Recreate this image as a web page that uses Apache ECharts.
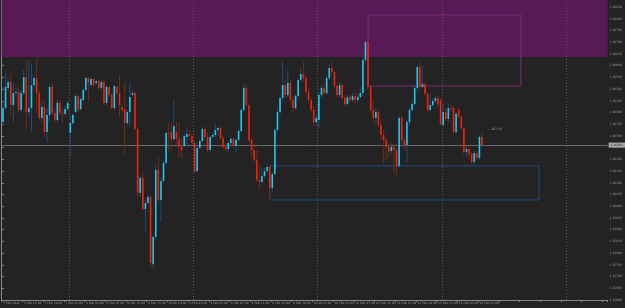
<!DOCTYPE html>
<html><head><meta charset="utf-8">
<script src="https://cdn.jsdelivr.net/npm/echarts@6/dist/echarts.min.js"></script>
<style>html,body{margin:0;padding:0;background:#232323}#c{width:625px;height:308px}</style>
</head><body><div id="c"></div>
<script>
const symbolTitle = '\u25AA GBPUSD,M30';
const tradingDays = ['7 Feb', '8 Feb', '9 Feb', '12 Feb', '13 Feb', '14 Feb'];
const tickLabels = ['7 Feb 2024','7 Feb 15:00','7 Feb 19:00','7 Feb 23:00','8 Feb 03:00','8 Feb 07:00','8 Feb 11:00','8 Feb 15:00','8 Feb 19:00','8 Feb 23:00','9 Feb 03:00','9 Feb 07:00','9 Feb 11:00','9 Feb 15:00','9 Feb 19:00','9 Feb 23:00','12 Feb 03:00','12 Feb 07:00','12 Feb 11:00','12 Feb 15:00','12 Feb 19:00','12 Feb 23:00','13 Feb 03:00','13 Feb 07:00'];

const opens = [1.26359,1.26419,1.26505,1.26530,1.26432,1.26483,1.26487,1.26411,1.26483,1.26551,1.26402,1.26419,1.26517,1.26547,1.26483,1.26377,1.26423,1.26317,1.26389,1.26509,1.26398,1.26368,1.26441,1.26398,1.26394,1.26415,
1.26313,1.26355,1.26402,1.26470,1.26415,1.26453,1.26496,1.26547,1.26517,1.26543,1.26526,1.26534,1.26505,1.26530,1.26441,1.26509,1.26475,1.26419,1.26509,1.26483,1.26423,1.26415,1.26355,1.26402,1.26475,1.26483,1.26330,1.26057,1.26121,1.25988,1.26014,1.26040,1.25754,1.25869,1.26155,1.26027,1.26108,1.26185,1.26313,1.26317,1.26287,1.26317,1.26287,1.26253,1.26257,1.26296,1.26308,1.26300,
1.26270,1.26150,1.26249,1.26278,1.26330,1.26296,1.26240,1.26296,1.26304,1.26325,1.26334,1.26291,1.26253,1.26244,1.26270,1.26287,1.26257,1.26283,1.26321,1.26411,1.26505,1.26432,1.26283,1.26240,1.26197,1.26112,1.26104,1.26129,1.26150,1.26168,1.26078,1.26138,1.26325,1.26402,1.26462,1.26517,1.26475,1.26526,1.26453,1.26419,1.26470,1.26539,1.26564,1.26547,1.26487,1.26453,1.26411,1.26359,
1.26368,1.26475,1.26505,1.26483,1.26547,1.26590,1.26573,1.26513,1.26475,1.26517,1.26462,1.26436,1.26466,1.26453,1.26470,1.26453,1.26466,1.26483,1.26624,1.26701,1.26509,1.26411,1.26377,1.26402,1.26347,1.26304,1.26283,1.26253,1.26236,1.26253,1.26240,1.26172,1.26377,1.26283,1.26261,1.26359,1.26411,1.26436,1.26505,1.26594,1.26509,1.26522,1.26479,1.26411,1.26432,1.26449,1.26462,1.26453,
1.26347,1.26402,1.26372,1.26419,1.26419,1.26317,1.26411,1.26381,1.26334,1.26232,1.26244,1.26223,1.26189,1.26227,1.26206,1.26296];
const closes = [1.26419,1.26509,1.26530,1.26432,1.26483,1.26487,1.26411,1.26483,1.26551,1.26402,1.26419,1.26517,1.26547,1.26483,1.26377,1.26423,1.26317,1.26389,1.26509,1.26398,1.26368,1.26441,1.26398,1.26394,1.26415,1.26441,
1.26355,1.26389,1.26470,1.26411,1.26458,1.26496,1.26547,1.26526,1.26543,1.26517,1.26534,1.26505,1.26530,1.26441,1.26509,1.26475,1.26419,1.26513,1.26483,1.26432,1.26411,1.26355,1.26402,1.26466,1.26483,1.26330,1.26057,1.26121,1.25988,1.26014,1.26040,1.25758,1.25869,1.26155,1.26027,1.26108,1.26185,1.26313,1.26308,1.26287,1.26342,1.26287,1.26253,1.26240,1.26300,1.26308,1.26300,1.26270,
1.26146,1.26249,1.26278,1.26330,1.26296,1.26240,1.26296,1.26304,1.26325,1.26334,1.26291,1.26253,1.26244,1.26270,1.26287,1.26257,1.26283,1.26321,1.26411,1.26505,1.26432,1.26283,1.26240,1.26197,1.26112,1.26104,1.26129,1.26150,1.26168,1.26078,1.26138,1.26325,1.26402,1.26462,1.26517,1.26475,1.26526,1.26453,1.26419,1.26470,1.26539,1.26564,1.26547,1.26487,1.26453,1.26411,1.26359,1.26377,
1.26475,1.26505,1.26483,1.26547,1.26590,1.26573,1.26513,1.26475,1.26517,1.26462,1.26436,1.26466,1.26453,1.26470,1.26453,1.26466,1.26483,1.26624,1.26701,1.26509,1.26411,1.26377,1.26402,1.26347,1.26304,1.26283,1.26253,1.26232,1.26253,1.26240,1.26172,1.26377,1.26283,1.26261,1.26359,1.26411,1.26436,1.26505,1.26594,1.26509,1.26522,1.26479,1.26411,1.26432,1.26449,1.26462,1.26436,1.26351,
1.26402,1.26372,1.26419,1.26415,1.26317,1.26394,1.26381,1.26334,1.26232,1.26244,1.26223,1.26189,1.26227,1.26206,1.26296,1.26261];
const highs = [1.26453,1.26569,1.26547,1.26573,1.26526,1.26505,1.26513,1.26496,1.26581,1.26624,1.26624,1.26611,1.26560,1.26633,1.26496,1.26453,1.26453,1.26419,1.26517,1.26526,1.26411,1.26453,1.26453,1.26419,1.26428,1.26453,
1.26389,1.26398,1.26479,1.26479,1.26466,1.26505,1.26551,1.26551,1.26547,1.26547,1.26543,1.26539,1.26539,1.26539,1.26517,1.26513,1.26483,1.26517,1.26513,1.26560,1.26436,1.26530,1.26411,1.26530,1.26492,1.26492,1.26334,1.26129,1.26146,1.26027,1.26048,1.26048,1.25878,1.26176,1.26206,1.26125,1.26197,1.26321,1.26355,1.26359,1.26453,1.26359,1.26355,1.26287,1.26308,1.26334,1.26325,1.26313,
1.26278,1.26257,1.26287,1.26338,1.26338,1.26313,1.26304,1.26313,1.26355,1.26342,1.26342,1.26300,1.26266,1.26278,1.26296,1.26296,1.26291,1.26330,1.26419,1.26526,1.26517,1.26441,1.26291,1.26257,1.26240,1.26176,1.26168,1.26163,1.26180,1.26176,1.26146,1.26334,1.26419,1.26475,1.26616,1.26539,1.26581,1.26539,1.26470,1.26479,1.26547,1.26590,1.26616,1.26560,1.26505,1.26466,1.26428,1.26394,
1.26487,1.26517,1.26522,1.26556,1.26607,1.26616,1.26581,1.26522,1.26530,1.26526,1.26475,1.26475,1.26479,1.26483,1.26483,1.26479,1.26505,1.26633,1.26709,1.26705,1.26517,1.26453,1.26419,1.26411,1.26368,1.26325,1.26296,1.26270,1.26270,1.26266,1.26249,1.26389,1.26385,1.26291,1.26368,1.26419,1.26453,1.26513,1.26603,1.26616,1.26598,1.26530,1.26487,1.26483,1.26462,1.26475,1.26470,1.26462,
1.26441,1.26419,1.26441,1.26432,1.26428,1.26402,1.26423,1.26389,1.26342,1.26257,1.26253,1.26232,1.26236,1.26236,1.26304,1.26313];
const lows = [1.26347,1.26411,1.26487,1.26389,1.26359,1.26466,1.26402,1.26402,1.26475,1.26325,1.26381,1.26317,1.26505,1.26398,1.26368,1.26359,1.26296,1.26270,1.26359,1.26389,1.26355,1.26359,1.26389,1.26355,1.26385,1.26406,
1.26210,1.26347,1.26398,1.26402,1.26406,1.26449,1.26492,1.26445,1.26505,1.26509,1.26517,1.26496,1.26496,1.26432,1.26432,1.26466,1.26411,1.26411,1.26475,1.26381,1.26402,1.26219,1.26347,1.26338,1.26470,1.26325,1.26040,1.26040,1.25984,1.25890,1.26005,1.25737,1.25737,1.25856,1.26014,1.25933,1.26099,1.26176,1.26232,1.26240,1.26278,1.26253,1.26210,1.26206,1.26249,1.26253,1.26283,1.26261,
1.26142,1.26142,1.26244,1.26274,1.26287,1.26232,1.26232,1.26287,1.26296,1.26304,1.26283,1.26244,1.26236,1.26232,1.26257,1.26249,1.26227,1.26274,1.26317,1.26402,1.26423,1.26274,1.26210,1.26185,1.26104,1.26069,1.26091,1.26121,1.26142,1.26027,1.26061,1.26129,1.26317,1.26389,1.26453,1.26462,1.26466,1.26441,1.26402,1.26411,1.26462,1.26526,1.26530,1.26475,1.26441,1.26398,1.26342,1.26342,
1.26334,1.26462,1.26470,1.26475,1.26539,1.26556,1.26505,1.26462,1.26466,1.26453,1.26423,1.26428,1.26441,1.26445,1.26436,1.26441,1.26458,1.26470,1.26616,1.26496,1.26398,1.26359,1.26347,1.26334,1.26283,1.26185,1.26197,1.26206,1.26223,1.26142,1.26125,1.26163,1.26253,1.26240,1.26189,1.26347,1.26402,1.26428,1.26487,1.26496,1.26505,1.26470,1.26398,1.26402,1.26423,1.26441,1.26423,1.26342,
1.26338,1.26364,1.26359,1.26402,1.26308,1.26308,1.26377,1.26325,1.26219,1.26210,1.26197,1.26180,1.26168,1.26197,1.26197,1.26253];

const upperZone = [1.26637, 1.26880];
const resistanceBox = { from: 141, to: 200, high: 1.26816, low: 1.26513 };
const supportBox = { from: 103, to: 207, high: 1.26172, low: 1.26027 };
const objectLabel = '\u2014 267.56';
const objectLabelPrice = 1.26330;
const objectLabelBar = 187;
const SLOTS = 234;

// category axis: 30-minute bars, weekend skipped
const categories = [];
tradingDays.forEach((d, di) => {
  for (let h = 0; h < 48; h++) {
    if (di === 0 && h < 22) continue;
    categories.push(d + ' ' + String(Math.floor(h / 2)).padStart(2, '0') + ':' + (h % 2 ? '30' : '00'));
  }
});
categories.length = SLOTS;
const dayStarts = [];
categories.forEach((c, i) => { if (i > 0 && c.endsWith(' 00:00')) dayStarts.push(i); });

const candleData = opens.map((o, i) => [i, o, closes[i], lows[i], highs[i]]);
const lastClose = closes[closes.length - 1];

const chart = echarts.init(document.getElementById('c'), null, { renderer: 'canvas' });
chart.setOption({
  animation: false,
  backgroundColor: '#232323',
  grid: { left: 0, right: 14, top: 0, bottom: 8 },
  xAxis: [{
    type: 'category', data: categories, boundaryGap: true,
    axisLine: { lineStyle: { color: '#8a8a8a', width: 1 } },
    axisTick: { show: true, interval: 7, length: 2, lineStyle: { color: '#8a8a8a' } },
    axisLabel: { interval: 7, fontSize: 3, color: '#9a9a9a', margin: 2, align: 'left',
      fontFamily: 'DejaVu Sans',
      formatter: (v, idx) => (idx % 8 === 0 && tickLabels[idx / 8]) ? tickLabels[idx / 8] : '' },
    splitLine: { show: false }
  }, {
    type: 'value', min: 0, max: SLOTS, show: false
  }],
  yAxis: {
    type: 'value', position: 'right', min: 1.2560, max: 1.2688, interval: 0.0005, scale: true,
    axisLine: { show: true, lineStyle: { color: '#8a8a8a', width: 1 } },
    axisTick: { show: true, length: 2, lineStyle: { color: '#8a8a8a' } },
    axisLabel: { fontSize: 3, color: '#9a9a9a', margin: 2, showMaxLabel: false, fontFamily: 'DejaVu Sans',
      formatter: v => v.toFixed(5) },
    splitLine: { show: false }
  },
  graphic: [
    { type: 'text', left: 2, top: 1, style: { text: symbolTitle, fill: '#a8a8a8', font: '3px DejaVu Sans' } },
    { type: 'rect', shape: { x: 5.5, y: 9.5, width: 6.5, height: 6 }, style: { fill: '#2e2e2e', stroke: '#a12a92', lineWidth: 1 } },
    { type: 'rect', shape: { x: 14.5, y: 9.5, width: 6.5, height: 6 }, style: { fill: '#2e2e2e', stroke: '#2e5f9e', lineWidth: 1 } },
    { type: 'rect', shape: { x: 31, y: 9, width: 6.5, height: 6.5 }, style: { fill: '#1f4d6c' } },
    { type: 'rect', shape: { x: 39, y: 9, width: 6, height: 6.5 }, style: { fill: '#3b6a1c' } },
    { type: 'rect', shape: { x: 47, y: 9, width: 6, height: 2 }, style: { fill: '#b222aa' } },
    { type: 'rect', shape: { x: 47, y: 14, width: 6, height: 2 }, style: { fill: '#3566c4' } },
    { type: 'text', left: 544, top: 19, style: { text: 'Rd', fill: '#cfcfcf', font: '7px DejaVu Sans' } }
  ],
  series: [
    {
      type: 'line', data: [], z: 1, silent: true,
      markArea: {
        silent: true,
        data: [
          [{ yAxis: upperZone[0], itemStyle: { color: '#581a54', opacity: 1 } }, { yAxis: upperZone[1] }],
          [{ xAxis: categories[resistanceBox.from], yAxis: resistanceBox.high,
             itemStyle: { color: 'rgba(0,0,0,0)', borderColor: '#7c2a7a', borderWidth: 1 } },
           { xAxis: categories[resistanceBox.to], yAxis: resistanceBox.low }],
          [{ xAxis: categories[supportBox.from], yAxis: supportBox.high,
             itemStyle: { color: 'rgba(0,0,0,0)', borderColor: '#1f4e80', borderWidth: 1 } },
           { xAxis: categories[supportBox.to], yAxis: supportBox.low }]
        ]
      },
      markLine: {
        silent: true, symbol: 'none', precision: 5,
        lineStyle: { color: '#6a6a6a', type: 'solid', width: 1 },
        label: { show: true, position: 'end', distance: 1, formatter: p => Number(p.value).toFixed(5),
          fontSize: 3, color: '#202020', backgroundColor: '#a8a8a8', padding: [1, 2], fontFamily: 'DejaVu Sans' },
        data: [{ yAxis: lastClose }]
      },
      markPoint: {
        silent: true, symbol: 'circle', symbolSize: 0,
        label: { show: true, formatter: objectLabel, fontSize: 3, color: '#9a9a9a', position: 'right', distance: 0, fontFamily: 'DejaVu Sans' },
        data: [{ coord: [categories[objectLabelBar], objectLabelPrice] }]
      }
    },
    {
      type: 'line', data: [], xAxisIndex: 1, z: 2, silent: true,
      markLine: {
        silent: true, symbol: 'none', label: { show: false },
        lineStyle: { color: '#5a5a5a', type: [1, 2], width: 1 },
        data: dayStarts.map(k => ({ xAxis: k }))
      }
    },
    {
      type: 'custom', z: 5, data: candleData,
      encode: { x: 0, y: [1, 2, 3, 4] },
      renderItem: (params, api) => {
        const i = api.value(0);
        const o = api.value(1), c = api.value(2), l = api.value(3), h = api.value(4);
        const pO = api.coord([i, o]), pC = api.coord([i, c]);
        const pL = api.coord([i, l]), pH = api.coord([i, h]);
        const bull = c >= o;
        const x = pO[0];
        const top = Math.min(pO[1], pC[1]);
        const hgt = Math.max(Math.abs(pO[1] - pC[1]), 1);
        return {
          type: 'group', children: [
            { type: 'line', shape: { x1: x, y1: pH[1], x2: x, y2: pL[1] },
              style: { stroke: bull ? '#1f4c76' : '#6e2c14', lineWidth: 1 } },
            { type: 'rect', shape: { x: x - 0.8, y: top, width: 1.6, height: hgt },
              style: { fill: bull ? '#1ec8f2' : '#f0220c' } }
          ]
        };
      }
    }
  ]
});
</script></body></html>
